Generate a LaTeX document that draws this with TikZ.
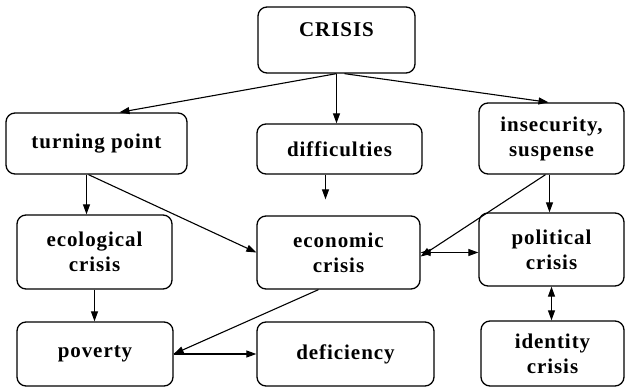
\documentclass[tikz,border=0pt]{standalone}
\usepackage{fontspec}
\setmainfont{Liberation Serif}[LetterSpace=4.5]
\usetikzlibrary{arrows.meta}

\tikzstyle{block}=[draw=black, line width=1.3pt, rounded corners=9pt, align=center, inner sep=2pt, font=\bfseries\fontsize{21}{25}\selectfont]
\tikzstyle{link}=[line width=1.1pt, -{Triangle[length=10pt,width=7pt]}]
\tikzstyle{bilink}=[line width=1.1pt, {Triangle[length=10pt,width=7pt]}-{Triangle[length=10pt,width=7pt]}]

\begin{document}
\begin{tikzpicture}[x=1pt, y=-1pt]
	\useasboundingbox (0,0) rectangle (625,387);

	% Obere Reihe
	\node(crisis) at (336.5,40) [block, minimum width=157pt, minimum height=66pt, text depth=20pt] {CRISIS};

	% Zweite Reihe
	\node(turning) at (96.5,143.5) [block, minimum width=181pt, minimum height=61pt] {turning point};
	\node(difficulties) at (339.5,149) [block, minimum width=165pt, minimum height=50pt] {difficulties};
	\node(insecurity) at (551.5,138.5) [block, minimum width=145pt, minimum height=71pt] {insecurity,\\suspense};

	% Dritte Reihe
	\node(ecological) at (94.5,252) [block, minimum width=155pt, minimum height=74pt] {ecological\\crisis};
	\node(economic) at (338.5,252.5) [block, minimum width=163pt, minimum height=73pt] {economic\\crisis};
	\node(political) at (551.5,249.5) [block, minimum width=145pt, minimum height=73pt] {political\\crisis};

	% Untere Reihe
	\node(poverty) at (95,354) [block, minimum width=156pt, minimum height=64pt] {poverty};
	\node(deficiency) at (345.5,354) [block, minimum width=177pt, minimum height=64pt] {deficiency};
	\node(identity) at (552.5,353.5) [block, minimum width=143pt, minimum height=65pt] {identity\\crisis};

	\draw[link] (crisis.south) -- ([xshift=23pt]turning.north);
	\draw[link] (crisis.south) -- (crisis.south |- difficulties.north);
	\draw[link] ([xshift=8pt]crisis.south) -- ([xshift=-3pt]insecurity.north);

	\draw[link] ([xshift=-10pt]turning.south) -- ([xshift=-10pt]turning.south |- ecological.north);
	\draw[link] ([xshift=-8pt]turning.south) -- (economic.west);
	\draw[link, shorten >=16pt] ([xshift=-14pt]difficulties.south) -- ([xshift=-14pt]difficulties.south |- economic.north);
	\draw[link] ([xshift=-6pt]insecurity.south) -- ([yshift=-4pt]economic.east);
	\draw[link] ([xshift=-2pt]insecurity.south) -- ([xshift=-2pt]insecurity.south |- political.north);

	\draw[bilink] (economic.east) -- (economic.east -| political.west);
	\draw[link] (ecological.south) -- (ecological.south |- poverty.north);
	\draw[link] ([xshift=-20pt]economic.south) -- (poverty.east);
	\draw[link] (poverty.east) -- (deficiency.west);
	\draw[bilink] (political.south) -- (political.south |- identity.north);

\end{tikzpicture}
\end{document}
